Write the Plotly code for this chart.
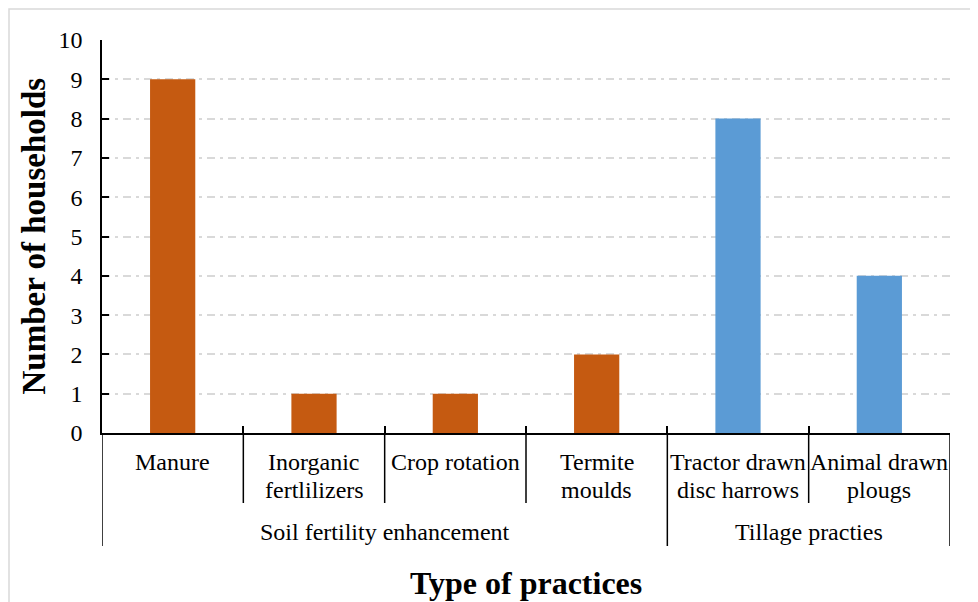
import plotly.graph_objects as go

categories = ["Manure", "Inorganic<br>fertlilizers", "Crop rotation", "Termite<br>moulds",
              "Tractor drawn<br>disc harrows", "Animal drawn<br>plougs"]
groups = ["Soil fertility enhancement"] * 4 + ["Tillage practies"] * 2
households = [9, 1, 1, 2, 8, 4]
y_ticks = list(range(0, 11))

group_colors = {"Soil fertility enhancement": "#C55A11", "Tillage practies": "#5B9BD5"}
FONT = "Liberation Serif, Times New Roman, serif"
LABEL_SIZE = 24

OFF = 8  # page body margin
W, H = 978, 602
L, T = 102 - OFF, 40 - OFF
R = W - (950 - OFF)
B = H - (433 - OFF)
pw, ph = W - L - R, H - T - B

def px_y(p):  # page pixel row -> paper y
    return (H - B - (p - OFF)) / ph

def px_x(p):
    return ((p - OFF) - L) / pw

idx = list(range(len(categories)))
fig = go.Figure(go.Bar(
    x=idx, y=households,
    marker=dict(color=[group_colors[g] for g in groups], line=dict(width=0)),
    width=0.32,
    hoverinfo="x+y",
))

annotations = []
shapes = []
# inner labels
for i, lab in enumerate(categories):
    for k, line in enumerate(lab.split("<br>")):
        annotations.append(dict(x=i, xref="x", y=0, yref="paper", text=line, showarrow=False,
                                yanchor="middle", yshift=-29 - 28 * k,
                                font=dict(family=FONT, size=LABEL_SIZE, color="black")))
# separators
for i in range(len(categories) + 1):
    b = i - 0.5
    outer = i == 0 or i == len(categories) or groups[i] != groups[i - 1]
    shapes.append(dict(type="line", xref="x", yref="paper", x0=b, x1=b, y0=0,
                       y1=px_y(546 if outer else 503), line=dict(color="black", width=1.5)))
# outer labels
ug = []
for g in groups:
    if g not in ug:
        ug.append(g)
for g in ug:
    members = [i for i, gg in enumerate(groups) if gg == g]
    annotations.append(dict(x=(members[0] + members[-1]) / 2, xref="x", y=0, yref="paper",
                            text=g, showarrow=False, yanchor="middle", yshift=-99,
                            font=dict(family=FONT, size=LABEL_SIZE, color="black")))
# axis titles
annotations.append(dict(x=0.5, xref="paper", y=0, yref="paper", text="<b>Type of practices</b>",
                        showarrow=False, yanchor="middle", yshift=-150,
                        font=dict(family=FONT, size=32, color="black")))
annotations.append(dict(x=0, xref="paper", y=0.5, yref="paper", text="<b>Number of households</b>",
                        showarrow=False, xanchor="center", yanchor="middle", xshift=-69, textangle=-90,
                        font=dict(family=FONT, size=33, color="black")))
# figure border
shapes.append(dict(type="rect", xref="paper", yref="paper", x0=px_x(9), x1=px_x(1010),
                   y0=px_y(640), y1=px_y(9), line=dict(color="#d9d9d9", width=1.5), layer="below"))

fig.update_layout(
    width=W, height=H,
    margin=dict(l=L, r=R, t=T, b=B),
    paper_bgcolor="white", plot_bgcolor="white",
    showlegend=False,
    annotations=annotations, shapes=shapes,
    font=dict(family=FONT, size=LABEL_SIZE, color="black"),
    xaxis=dict(type="linear", range=[-0.5, len(categories) - 0.5], showticklabels=False,
               tickmode="array", tickvals=[i - 0.5 for i in range(len(categories) + 1)],
               ticks="inside", ticklen=7, tickcolor="black", tickwidth=1.5,
               showline=True, linecolor="black", linewidth=1.5, showgrid=False, zeroline=False),
    yaxis=dict(range=[0, 10], tickmode="array", tickvals=y_ticks, ticktext=[str(v) for v in y_ticks],
               ticks="inside", ticklen=7, tickcolor="black", tickwidth=1.5,
               showline=True, linecolor="black", linewidth=1.5,
               showgrid=True, gridcolor="#d9d9d9", gridwidth=1.5, griddash="8px,5px,3px,5px",
               zeroline=False, tickfont=dict(family=FONT, size=LABEL_SIZE, color="black"),
               ticklabelstandoff=13),
)

fig.write_html("out.html")
